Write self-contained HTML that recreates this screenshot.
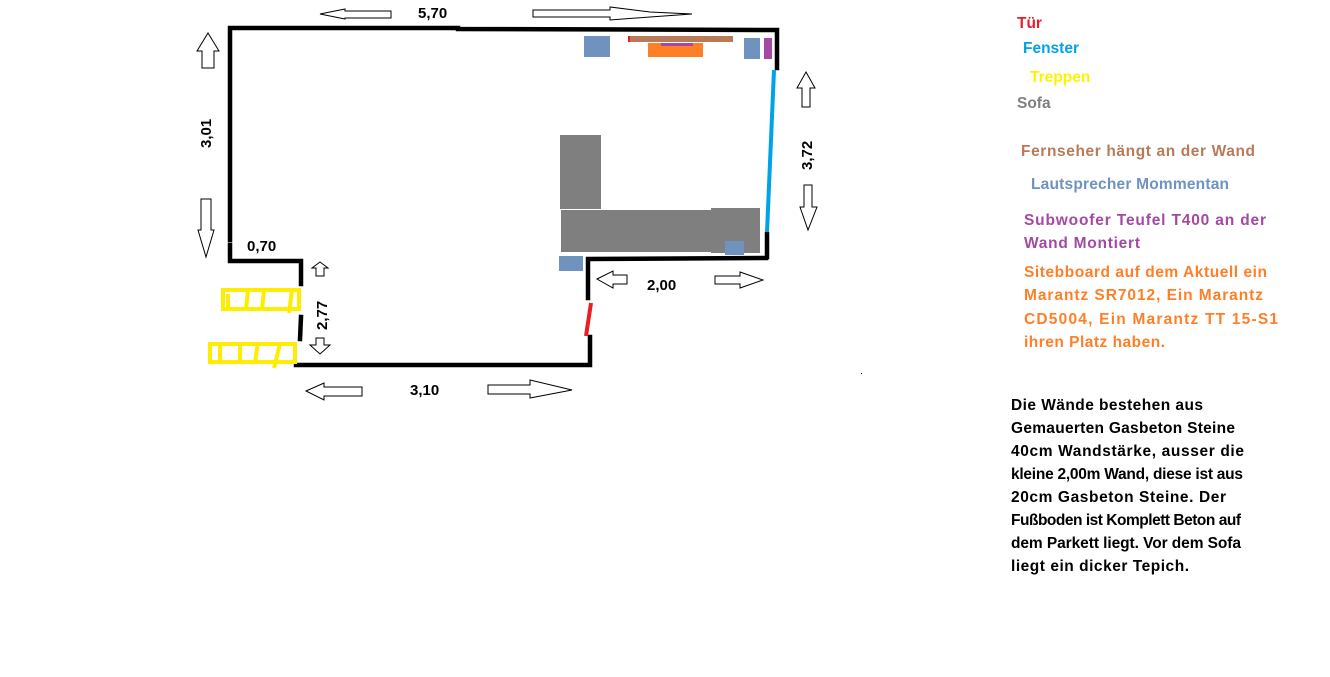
<!DOCTYPE html>
<html><head><meta charset="utf-8"><style>
html,body{margin:0;padding:0;background:#fff;}
svg{display:block}
.d{font-family:"Liberation Sans",sans-serif;font-size:15px;font-weight:bold;fill:#000}
.l{font-family:"Liberation Sans",sans-serif;font-size:15.5px;font-weight:bold}
</style></head><body>
<svg width="1330" height="677" viewBox="0 0 1330 677" xmlns="http://www.w3.org/2000/svg">
<g stroke="#000" stroke-width="4.5" fill="none" stroke-linecap="square">
<polyline points="230,240 230,28 458,28 458,29 777,30 777,68"/>
<polyline points="230,245 230,261 301,261 301,284"/>
<line x1="301" y1="317" x2="300" y2="339"/>
<line x1="767" y1="234" x2="767" y2="257"/>
<polyline points="766,258 588,259 588,298"/>
<polyline points="590,337 590,365 296,365"/>
</g>
<line x1="774" y1="70" x2="767" y2="232" stroke="#00a2e8" stroke-width="4"/>
<line x1="591" y1="303" x2="586" y2="336" stroke="#ed1c24" stroke-width="4"/>
<g stroke="#ffed00" stroke-width="4" fill="none">
<rect x="223" y="290" width="76" height="19"/>
<line x1="228" y1="294" x2="228" y2="307"/><line x1="248" y1="291" x2="246" y2="309"/><line x1="264" y1="291" x2="262" y2="309"/><line x1="292" y1="291" x2="289" y2="313"/>
<rect x="210" y="344" width="85" height="18"/>
<line x1="220" y1="344" x2="220" y2="362"/><line x1="240" y1="342" x2="240" y2="362"/><line x1="258" y1="342" x2="255" y2="362"/><line x1="280" y1="344" x2="274" y2="368"/>
</g>
<rect x="584" y="36" width="26" height="21" fill="#7092be"/>
<rect x="628" y="36" width="105" height="6" fill="#b97a57"/>
<rect x="628" y="36" width="2" height="6" fill="#ed1c24"/>
<rect x="648" y="43" width="55" height="14" fill="#ff7f27"/>
<rect x="661" y="43" width="32" height="3" fill="#a349a4"/>
<rect x="744" y="38" width="16" height="21" fill="#7092be"/>
<rect x="764" y="38" width="8" height="21" fill="#a349a4"/>
<rect x="560" y="135" width="41" height="74" fill="#7f7f7f"/>
<rect x="561" y="210" width="150" height="42" fill="#7f7f7f"/>
<rect x="711" y="208" width="49" height="45" fill="#7f7f7f"/>
<rect x="725" y="241" width="19" height="14" fill="#7092be"/>
<rect x="559" y="256" width="24" height="15" fill="#7092be"/>
<g fill="#fff" stroke="#000" stroke-width="1">
<polygon points="320,14 345,9 345,11 391,11 391,18 345,18 345,19"/>
<polygon points="533,10 610,10 610,7 650,12 692,14 650,17 610,20 610,17 533,17"/>
<polygon points="208,33 219,51 214,51 214,68 202,68 202,51 197,51"/>
<polygon points="201,199 211,199 211,230 214,230 206,257 198,230 201,230"/>
<polygon points="320,262 328,268 324,268 324,276 316,276 316,268 312,268"/>
<polygon points="316,338 324,338 324,345 330,345 320,354 310,345 316,345"/>
<polygon points="306,391 324,383 324,387 362,387 362,396 324,396 324,400"/>
<polygon points="488,385 530,385 530,380 572,390 530,398 530,394 488,394"/>
<polygon points="806,72 815,88 810,88 810,107 802,107 802,88 797,88"/>
<polygon points="804,185 812,185 812,207 817,207 808,230 800,207 804,207"/>
<polygon points="597,279 613,271 613,275 627,275 627,284 613,284 613,288"/>
<polygon points="715,276 740,276 740,272 763,280 740,288 740,284 715,284"/>
</g>
<text class="d" x="418" y="18">5,70</text>
<text class="d" x="247" y="251">0,70</text>
<text class="d" x="410" y="395">3,10</text>
<text class="d" x="647" y="290">2,00</text>
<text class="d" transform="translate(211,148) rotate(-90)">3,01</text>
<text class="d" transform="translate(327,330) rotate(-90)">2,77</text>
<text class="d" transform="translate(812,170) rotate(-90)">3,72</text>
<text class="l" x="1017" y="28" fill="#ed1c24">Tür</text>
<text class="l" x="1023" y="53" fill="#00a2e8">Fenster</text>
<text class="l" x="1030" y="82" fill="#fff200">Treppen</text>
<text class="l" x="1017" y="108" fill="#7f7f7f">Sofa</text>
<text class="l" x="1021" y="156" fill="#b97a57" textLength="234">Fernseher hängt an der Wand</text>
<text class="l" x="1031" y="189" fill="#7092be" textLength="198">Lautsprecher Mommentan</text>
<text class="l" x="1024" y="225" fill="#a349a4" textLength="242">Subwoofer Teufel T400 an der</text>
<text class="l" x="1024" y="248" fill="#a349a4" textLength="116">Wand Montiert</text>
<g fill="#ff7f27">
<text class="l" x="1024" y="277" textLength="243">Sitebboard auf dem Aktuell ein</text>
<text class="l" x="1024" y="300" textLength="239">Marantz SR7012, Ein Marantz</text>
<text class="l" x="1024" y="324" textLength="254">CD5004, Ein Marantz TT 15-S1</text>
<text class="l" x="1024" y="347" textLength="141">ihren Platz haben.</text>
</g>
<g fill="#000">
<text class="l" x="1011" y="410" textLength="192">Die Wände bestehen aus</text>
<text class="l" x="1011" y="433" textLength="224">Gemauerten Gasbeton Steine</text>
<text class="l" x="1011" y="456" textLength="233">40cm Wandstärke, ausser die</text>
<text class="l" x="1011" y="479" textLength="232">kleine 2,00m Wand, diese ist aus</text>
<text class="l" x="1011" y="502" textLength="215">20cm Gasbeton Steine. Der</text>
<text class="l" x="1011" y="525" textLength="230">Fußboden ist Komplett Beton auf</text>
<text class="l" x="1011" y="548" textLength="230">dem Parkett liegt. Vor dem Sofa</text>
<text class="l" x="1011" y="571" textLength="178">liegt ein dicker Tepich.</text>
</g>
<rect x="861" y="373" width="1" height="1" fill="#000"/>
</svg>
</body></html>
